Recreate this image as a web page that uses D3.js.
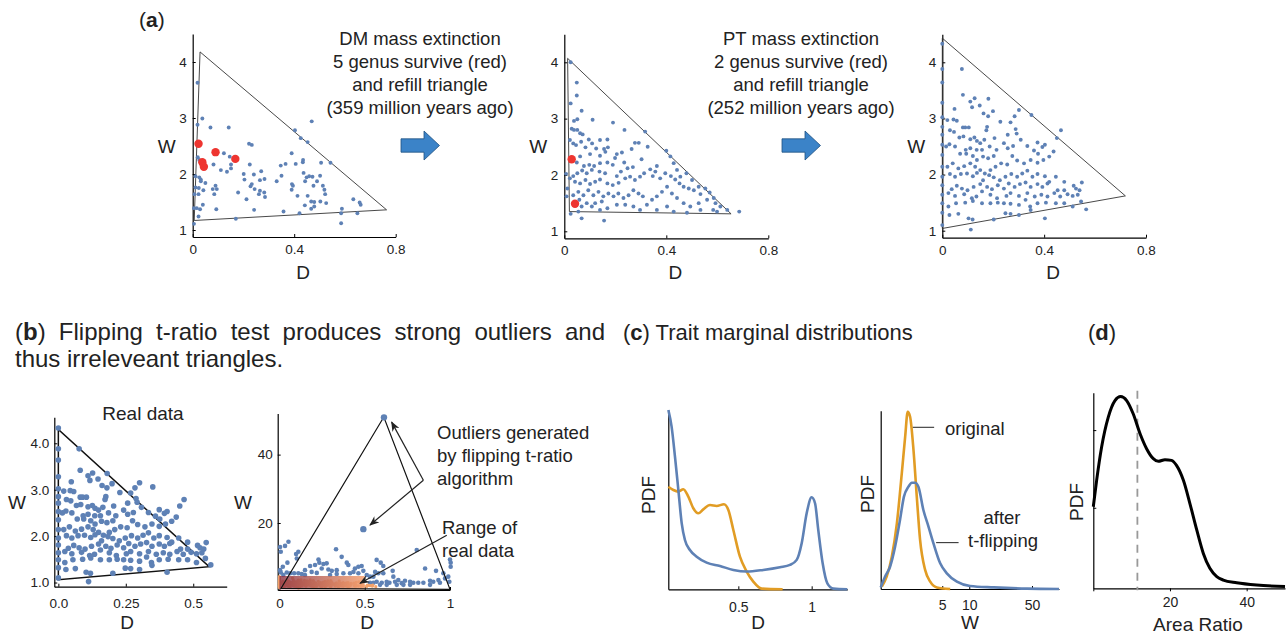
<!DOCTYPE html>
<html>
<head>
<meta charset="utf-8">
<script src="https://cdn.jsdelivr.net/npm/d3@7"></script>
<style>
body { margin: 0; background: #fff; }
text { font-family: "Liberation Sans", Arial, sans-serif; fill: #222; }
</style>
</head>
<body>
<svg id="fig" width="1287" height="633"></svg>
<script>
// ---------- data (D, W) ----------
const a1Blue = [[0.019,3.63],[0.019,2.88],[0.038,2.99],[0.070,2.83],[0.142,2.83],[0.469,2.94],[0.403,2.78],[0.426,2.64],[0.453,2.57],[0.222,2.54],[0.233,2.52],[0.123,2.37],[0.146,2.31],[0.390,2.37],[0.434,2.21],[0.406,2.18],[0.366,2.18],[0.347,2.15],[0.506,2.20],[0.543,2.20],[0.435,2.25],[0.225,2.17],[0.151,2.17],[0.082,2.17],[0.151,2.10],[0.135,2.04],[0.111,2.07],[0.020,2.30],[0.026,2.25],[0.011,1.96],[0.026,1.94],[0.032,1.87],[0.201,2.00],[0.204,1.90],[0.241,1.99],[0.270,2.05],[0.265,1.89],[0.283,1.91],[0.228,1.78],[0.233,1.82],[0.244,1.73],[0.265,1.70],[0.261,1.64],[0.282,1.67],[0.285,1.59],[0.212,1.55],[0.179,1.67],[0.331,1.87],[0.350,1.97],[0.391,1.82],[0.395,1.79],[0.390,1.72],[0.413,1.61],[0.437,2.02],[0.449,1.94],[0.459,1.96],[0.472,1.95],[0.443,1.87],[0.476,1.79],[0.490,1.87],[0.502,1.97],[0.513,1.79],[0.519,1.72],[0.522,1.64],[0.453,1.61],[0.442,1.44],[0.467,1.51],[0.479,1.50],[0.503,1.51],[0.526,1.48],[0.479,1.42],[0.467,1.38],[0.421,1.30],[0.358,1.33],[0.242,1.36],[0.588,1.38],[0.585,1.30],[0.585,1.12],[0.633,1.55],[0.658,1.49],[0.662,1.45],[0.649,1.30],[0.170,1.20],[0.093,1.37],[0.040,1.45],[0.029,1.37],[0.016,1.39],[0.005,1.39],[0.023,1.24],[0.005,1.11],[0.007,1.64],[0.023,1.64],[0.042,1.71],[0.079,1.73],[0.095,1.73],[0.085,1.64],[0.024,1.75],[0.011,1.76],[0.090,1.79],[0.032,1.90],[0.050,1.84]];
const a1Red = [[0.023,2.54],[0.090,2.39],[0.038,2.21],[0.044,2.13],[0.168,2.27]];
const a1Tri = [[0.029,4.18],[0.006,1.17],[0.764,1.36]];

const a2Blue = [[0.025,4.00],[0.049,3.64],[0.049,3.41],[0.025,3.27],[0.068,3.14],[0.111,2.98],[0.051,2.99],[0.038,2.96],[0.191,2.93],[0.029,2.82],[0.038,2.80],[0.051,2.80],[0.062,2.74],[0.072,2.72],[0.236,2.80],[0.317,2.77],[0.169,2.63],[0.140,2.62],[0.096,2.63],[0.022,2.62],[0.035,2.56],[0.046,2.53],[0.066,2.59],[0.083,2.49],[0.109,2.56],[0.125,2.47],[0.156,2.46],[0.171,2.49],[0.161,2.41],[0.277,2.57],[0.292,2.57],[0.327,2.50],[0.264,2.46],[0.226,2.40],[0.206,2.37],[0.303,2.28],[0.400,2.43],[0.416,2.33],[0.199,2.30],[0.140,2.34],[0.101,2.37],[0.062,2.33],[0.049,2.22],[0.077,2.16],[0.098,2.18],[0.117,2.16],[0.140,2.21],[0.169,2.22],[0.190,2.18],[0.235,2.22],[0.248,2.12],[0.269,2.14],[0.222,2.06],[0.206,1.98],[0.160,2.03],[0.138,2.06],[0.108,2.09],[0.088,2.03],[0.070,2.08],[0.051,2.03],[0.035,1.98],[0.022,1.94],[0.042,1.88],[0.062,1.85],[0.083,1.91],[0.101,1.84],[0.121,1.88],[0.140,1.92],[0.169,1.85],[0.190,1.82],[0.213,1.86],[0.239,1.94],[0.258,1.97],[0.277,1.91],[0.297,1.97],[0.313,2.03],[0.337,2.10],[0.347,1.98],[0.363,2.16],[0.357,2.06],[0.376,1.94],[0.396,2.03],[0.418,1.98],[0.435,1.92],[0.452,1.85],[0.468,1.79],[0.488,1.76],[0.508,1.73],[0.534,1.66],[0.570,1.69],[0.593,1.50],[0.612,1.44],[0.639,1.38],[0.686,1.35],[0.560,1.56],[0.527,1.50],[0.494,1.44],[0.468,1.50],[0.442,1.59],[0.422,1.67],[0.403,1.79],[0.383,1.70],[0.363,1.62],[0.344,1.56],[0.324,1.47],[0.308,1.62],[0.291,1.67],[0.271,1.73],[0.252,1.64],[0.232,1.59],[0.212,1.67],[0.193,1.62],[0.173,1.67],[0.153,1.62],[0.134,1.70],[0.114,1.64],[0.094,1.73],[0.075,1.64],[0.055,1.70],[0.035,1.64],[0.059,1.56],[0.088,1.50],[0.121,1.50],[0.147,1.53],[0.169,1.41],[0.140,1.38],[0.108,1.44],[0.068,1.44],[0.206,1.47],[0.239,1.47],[0.271,1.44],[0.297,1.38],[0.363,1.38],[0.403,1.44],[0.429,1.35],[0.481,1.33],[0.534,1.38],[0.584,1.38],[0.055,1.35],[0.025,1.31],[0.068,1.23],[0.156,1.19],[0.007,2.02],[0.009,1.62],[0.012,1.76],[0.429,2.21],[0.442,2.09],[0.479,2.03],[0.455,1.97],[0.501,1.91],[0.527,1.79],[0.553,1.76],[0.586,1.59],[0.599,1.35]];
const a2Red = [[0.029,2.28],[0.042,1.49]];
const a2Tri = [[0.013,4.07],[0.020,1.35],[0.654,1.31]];

// real data: shown in (a) right panel and (b) left panel
const realPts = [[0,4.33],[0,3.88],[0,3.64],[0,3.28],[0,3.02],[0,2.85],[0,2.71],[0,2.53],[0,2.35],[0,2.14],[0,1.96],[0,1.81],[0,1.64],[0,1.49],[0,1.32],[0,1.10],[0.077,3.88],[0.081,3.42],[0.127,3.36],[0.110,3.30],[0.117,3.20],[0.147,3.23],[0.181,3.35],[0.199,3.13],[0.162,3.09],[0.180,3.04],[0.048,3.17],[0.044,2.98],[0.020,2.97],[0.057,2.96],[0.301,3.15],[0.284,3.04],[0.350,3.06],[0.268,2.93],[0.228,2.94],[0.466,2.79],[0.450,2.65],[0.288,2.81],[0.292,2.73],[0.257,2.71],[0.205,2.65],[0.176,2.85],[0.173,2.79],[0.081,2.84],[0.090,2.84],[0.104,2.84],[0.046,2.76],[0.030,2.79],[0.067,2.66],[0.083,2.68],[0.110,2.63],[0.126,2.66],[0.136,2.60],[0.149,2.56],[0.165,2.62],[0.186,2.50],[0.156,2.44],[0.135,2.44],[0.110,2.47],[0.092,2.44],[0.070,2.37],[0.050,2.50],[0.028,2.54],[0.015,2.50],[0.094,2.37],[0.120,2.33],[0.136,2.26],[0.160,2.32],[0.180,2.29],[0.202,2.33],[0.213,2.44],[0.242,2.56],[0.257,2.47],[0.278,2.51],[0.308,2.62],[0.334,2.51],[0.374,2.57],[0.393,2.49],[0.403,2.53],[0.360,2.43],[0.376,2.37],[0.420,2.32],[0.437,2.41],[0.397,2.26],[0.374,2.21],[0.347,2.26],[0.321,2.20],[0.294,2.25],[0.275,2.33],[0.255,2.18],[0.231,2.20],[0.209,2.14],[0.189,2.08],[0.167,2.02],[0.149,2.08],[0.129,2.14],[0.110,2.20],[0.086,2.15],[0.063,2.11],[0.041,2.20],[0.020,2.14],[0.030,2.01],[0.050,1.96],[0.073,2.01],[0.097,2.02],[0.120,1.97],[0.136,2.03],[0.160,1.90],[0.184,1.99],[0.202,1.95],[0.226,1.90],[0.248,1.96],[0.271,2.01],[0.294,1.96],[0.314,2.02],[0.334,2.07],[0.354,1.96],[0.374,2.01],[0.403,1.97],[0.420,1.87],[0.446,1.96],[0.413,1.84],[0.393,1.78],[0.374,1.83],[0.347,1.78],[0.327,1.86],[0.305,1.83],[0.284,1.78],[0.261,1.84],[0.242,1.75],[0.218,1.81],[0.195,1.74],[0.176,1.78],[0.149,1.83],[0.123,1.78],[0.099,1.72],[0.077,1.75],[0.057,1.80],[0.037,1.74],[0.024,1.67],[0.050,1.62],[0.086,1.65],[0.116,1.58],[0.134,1.61],[0.156,1.70],[0.189,1.64],[0.215,1.58],[0.252,1.62],[0.268,1.67],[0.301,1.62],[0.334,1.67],[0.363,1.61],[0.389,1.64],[0.413,1.61],[0.440,1.67],[0.463,1.61],[0.479,1.72],[0.492,1.65],[0.516,1.80],[0.525,1.75],[0.539,1.72],[0.548,1.86],[0.532,1.64],[0.512,1.62],[0.479,1.87],[0.453,1.72],[0.545,1.52],[0.565,1.38],[0.512,1.43],[0.479,1.49],[0.446,1.49],[0.407,1.50],[0.374,1.49],[0.345,1.43],[0.327,1.55],[0.301,1.46],[0.268,1.48],[0.242,1.49],[0.218,1.50],[0.189,1.49],[0.156,1.49],[0.120,1.53],[0.090,1.50],[0.054,1.49],[0.024,1.43],[0.028,1.28],[0.063,1.30],[0.103,1.22],[0.119,1.20],[0.112,1.02],[0.202,1.20],[0.248,1.31],[0.268,1.30],[0.301,1.28],[0.347,1.37],[0.403,1.22]];
const a3Tri = [[0,4.43],[0,1.04],[0.719,1.62]];
const b1Tri = [[0,4.30],[0,1.06],[0.559,1.34]];

// after t-ratio flipping
const b2Blue = [[0.004,13.0],[0.008,11.6],[0.033,13.3],[0.053,14.5],[0.004,6.2],[0.008,5.5],[0.047,8.4],[0.043,5.5],[0.063,5.3],[0.098,10.9],[0.111,11.6],[0.102,9.6],[0.086,5.3],[0.111,5.3],[0.131,5.1],[0.150,4.8],[0.180,7.4],[0.209,7.7],[0.229,9.3],[0.234,8.4],[0.258,8.0],[0.277,8.2],[0.248,6.7],[0.287,6.4],[0.307,6.0],[0.332,12.3],[0.336,5.1],[0.365,10.1],[0.395,8.4],[0.404,7.7],[0.375,5.3],[0.414,5.3],[0.443,6.7],[0.463,7.2],[0.482,7.4],[0.492,6.0],[0.512,4.8],[0.531,4.3],[0.570,9.2],[0.580,5.3],[0.594,8.4],[0.609,7.4],[0.531,2.5],[0.551,2.5],[0.570,2.8],[0.600,2.5],[0.629,2.8],[0.645,2.5],[0.664,6.0],[0.678,2.8],[0.697,3.3],[0.717,2.4],[0.736,3.1],[0.766,2.8],[0.785,2.5],[0.805,12.1],[0.814,2.5],[0.854,6.7],[0.883,3.1],[0.902,2.8],[0.918,6.0],[0.932,3.3],[0.941,2.5],[0.961,5.3],[0.971,3.8],[0.990,4.3],[0.996,2.8],[1.0,9.3],[1.004,8.4],[1.004,7.2],[0.668,4.3],[0.688,1.9],[0.727,1.9],[0.766,1.9],[0.844,2.5],[0.883,1.9],[0.590,1.9],[0.629,1.9],[0.551,4.3],[0.561,5.7],[0.609,5.3],[0.463,5.3],[0.020,7.2],[0.023,4.8],[0.150,6.2],[0.189,5.7],[0.219,5.4],[0.297,4.8],[0.336,6.2],[0.434,5.7]];
const b2Outliers = [[0.492,18.2],[0.613,50.9]];
const b2Tri = [[0.01,0.9],[0.612,51],[1.0,0.6]];
const b2RealRange = {D: [0, 0.5], W: [0.6, 4.5]};

// (c) marginal PDFs
const c1Flipped = [[0.023,1.0],[0.045,0.907],[0.068,0.740],[0.091,0.554],[0.114,0.368],[0.136,0.275],[0.170,0.219],[0.216,0.182],[0.284,0.149],[0.375,0.130],[0.466,0.108],[0.557,0.099],[0.670,0.108],[0.784,0.123],[0.852,0.136],[0.898,0.164],[0.932,0.257],[0.966,0.424],[1.0,0.513],[1.023,0.480],[1.045,0.331],[1.075,0.145],[1.107,0.033],[1.148,0.004],[1.243,0]];
const c1Original = [[0.023,0.572],[0.057,0.554],[0.091,0.545],[0.125,0.558],[0.159,0.517],[0.193,0.452],[0.227,0.424],[0.261,0.446],[0.307,0.470],[0.352,0.465],[0.402,0.474],[0.432,0.442],[0.466,0.331],[0.511,0.182],[0.557,0.099],[0.602,0.043],[0.659,0.004],[0.802,0]];
const c2Original = [[1.06,0.013],[1.2,0.069],[1.37,0.181],[1.56,0.368],[1.77,0.649],[1.93,0.854],[2.06,0.994],[2.19,0.966],[2.39,0.779],[2.6,0.518],[2.83,0.275],[3.22,0.107],[3.67,0.041],[4.35,0.009],[6.13,0]];
const c2Flipped = [[1.03,0.009],[1.15,0.069],[1.31,0.125],[1.49,0.237],[1.69,0.387],[1.87,0.518],[2.10,0.574],[2.29,0.596],[2.49,0.596],[2.71,0.574],[3.08,0.443],[3.51,0.350],[3.99,0.256],[4.74,0.144],[5.62,0.088],[7.28,0.041],[10.2,0.017],[18.7,0.009],[44,0.002],[100,0]];

// (d) area ratio PDF
const dCurve = [[0,0.425],[0.87,0.563],[2.17,0.737],[3.91,0.893],[5.65,0.979],[7.13,1.0],[8.70,0.979],[10.4,0.910],[12.2,0.806],[13.9,0.728],[15.65,0.676],[16.96,0.662],[18.7,0.671],[20.4,0.667],[21.7,0.641],[23.5,0.563],[25.2,0.442],[27.0,0.303],[28.7,0.182],[30.4,0.104],[32.2,0.061],[33.9,0.043],[37.4,0.029],[42.6,0.017],[50,0.009]];
const dThreshold = 11.5;

// ticks and labels
const aXTicks = [0, 0.4, 0.8];
const aYTicks = [1, 2, 3, 4];
const b1XTicks = [0, 0.25, 0.5];
const b1XLabels = ['0.0', '0.25', '0.5'];
const b1YTicks = [1, 2, 3, 4];
const b2XTicks = [0, 0.5, 1];
const b2YTicks = [20, 40];
const c1XTicks = [0.5, 1];
const c2XTicks = [5, 10, 50];
const dXTicks = [0, 20, 40];
const dYTicks = [0.42, 0.825];
const dmText = ['DM mass extinction', '5 genus survive (red)', 'and refill triangle', '(359 million years ago)'];
const ptText = ['PT mass extinction', '2 genus survive (red)', 'and refill triangle', '(252 million years ago)'];
const outlierText = ['Outliers generated', 'by flipping t-ratio', 'algorithm'];
const rangeText = ['Range of', 'real data'];

// ---------- drawing ----------
const BLUE = '#5e81b5', ORANGE = '#e19c24', RED = '#ee3530';
const svg = d3.select('#fig');

function axes(x, y, o) {
    const g = svg.append('g');
    const xa = d3.axisBottom(x).tickValues(o.xt).tickSizeInner(o.xin || -3).tickSizeOuter(0)
        .tickPadding(o.xp).tickFormat(o.xf || (d => d));
    const ya = d3.axisLeft(y).tickValues(o.yt).tickSizeInner(-3).tickSizeOuter(0)
        .tickPadding(o.yp || 5).tickFormat(o.yf || (d => d));
    g.append('g').attr('transform', `translate(0,${y.range()[0]})`).call(xa);
    g.append('g').attr('transform', `translate(${x.range()[0]},0)`).call(ya);
    g.selectAll('.domain').attr('stroke', '#000').attr('stroke-width', 1.2);
    g.selectAll('.tick line').attr('stroke', '#000');
    g.selectAll('.tick text').attr('font-size', o.fs || 13.5).attr('fill', o.tc || '#222')
        .attr('font-family', '"Liberation Sans", Arial, sans-serif');
    return g;
}

function label(x, y, txt, size, rotate) {
    svg.append('text')
        .attr('transform', `translate(${x},${y})` + (rotate ? ' rotate(-90)' : ''))
        .attr('text-anchor', 'middle').attr('dominant-baseline', 'central')
        .attr('font-size', size || 19).text(txt);
}

function triangle(x, y, pts, w, col) {
    svg.append('path')
        .attr('d', d3.line().x(d => x(d[0])).y(d => y(d[1]))(pts) + 'Z')
        .attr('fill', 'none').attr('stroke', col || '#333').attr('stroke-width', w || 0.9);
}

function dots(x, y, pts, r, col) {
    svg.append('g').selectAll('circle').data(pts).enter().append('circle')
        .attr('cx', d => x(d[0])).attr('cy', d => y(d[1]))
        .attr('r', r).attr('fill', col);
}

// panel (a): three triangles
const aPanels = [
    {x0: 192.7, x8: 395.7, y1: 230, y4: 62, blue: a1Blue, red: a1Red, tri: a1Tri},
    {x0: 564.3, x8: 768.3, y1: 231.3, y4: 62.3, blue: a2Blue, red: a2Red, tri: a2Tri},
    {x0: 942.3, x8: 1146, y1: 230.7, y4: 62.3, blue: realPts, red: [], tri: a3Tri}
];
aPanels.forEach(p => {
    const unit = (p.y1 - p.y4) / 3;
    const x = d3.scaleLinear().domain([0, 0.8]).range([p.x0, p.x8]);
    const y = d3.scaleLinear().domain([0.875, 4.5]).range([p.y1 + 0.125 * unit, p.y1 - 3.5 * unit]);
    axes(x, y, {xt: aXTicks, yt: aYTicks, xp: 7.5, yp: 6});
    triangle(x, y, p.tri, 0.9, '#333');
    dots(x, y, p.blue, 1.95, BLUE);
    dots(x, y, p.red, 4.2, RED);
    label(p.x0 - 26, 146, 'W');
    label((p.x0 + p.x8) / 2 + 9, 272, 'D');
});

// (a) title and transition notes
svg.append('text').attr('x', 139).attr('y', 27).attr('font-size', 21)
    .html('(<tspan font-weight="bold">a</tspan>)');

function note(cx, lines) {
    svg.append('g').selectAll('text').data(lines).enter().append('text')
        .attr('x', cx).attr('y', (d, i) => 45 + i * 23)
        .attr('text-anchor', 'middle').attr('font-size', 18.5).text(d => d);
}
note(420, dmText);
note(801, ptText);

function blockArrow(cx, cy) {
    const p = [[-19, -6.7], [4, -6.7], [4, -14.5], [19.5, 0], [4, 14.5], [4, 6.7], [-19, 6.7]];
    svg.append('path')
        .attr('d', d3.line().x(d => cx + d[0]).y(d => cy + d[1])(p) + 'Z')
        .attr('fill', '#3b83c8').attr('stroke', '#1f5080').attr('stroke-width', 0.8);
}
blockArrow(420, 145.5);
blockArrow(801, 145.5);

// (b) heading, first line justified through word spacing
const bLine1 = svg.append('text').attr('x', 15).attr('y', 340).attr('font-size', 24)
    .html('(<tspan font-weight="bold">b</tspan>) Flipping t-ratio test produces strong outliers and');
const bGap = (590 - bLine1.node().getComputedTextLength()) / 7;
bLine1.attr('word-spacing', Math.max(0, bGap));
svg.append('text').attr('x', 15).attr('y', 367).attr('font-size', 24)
    .text('thus irreleveant triangles.');

// (b) left: real data
{
    const x = d3.scaleLinear().domain([-0.015, 0.624]).range([54.3, 226.7]);
    const y = d3.scaleLinear().domain([0.91, 4.56]).range([586.7, 417.3]);
    axes(x, y, {xt: b1XTicks, yt: b1YTicks, xp: 11.5, yp: 5, tc: '#444',
        xf: (d, i) => b1XLabels[i], yf: d3.format('.1f')});
    triangle(x, y, b1Tri, 1.5, '#111');
    dots(x, y, realPts, 2.8, BLUE);
    label(143, 413, 'Real data');
    label(17, 502, 'W');
    label(127, 622, 'D');
}

// (b) right: after flipping
{
    const x = d3.scaleLinear().domain([-0.01, 1.0]).range([277.7, 450]);
    const y = d3.scaleLinear().domain([0.4, 52]).range([590, 413.6]);
    axes(x, y, {xt: b2XTicks, yt: b2YTicks, xp: 8.5, yp: 5});
    dots(x, y, b2Blue, 2.3, BLUE);

    // real data range highlighted
    const defs = svg.append('defs');
    const grad = defs.append('linearGradient').attr('id', 'rangeGrad');
    grad.append('stop').attr('offset', '0%').attr('stop-color', '#8a2f42').attr('stop-opacity', 0.8);
    grad.append('stop').attr('offset', '100%').attr('stop-color', '#f4a070').attr('stop-opacity', 0.85);
    dots(x, y, realPts, 1.6, '#f3a26a');
    svg.append('rect')
        .attr('x', x(b2RealRange.D[0])).attr('y', y(b2RealRange.W[1]))
        .attr('width', x(b2RealRange.D[1]) - x(b2RealRange.D[0]))
        .attr('height', y(b2RealRange.W[0]) - y(b2RealRange.W[1]))
        .attr('fill', 'url(#rangeGrad)');

    triangle(x, y, b2Tri, 1.2, '#111');
    dots(x, y, b2Outliers, 3.2, BLUE);

    defs.append('marker').attr('id', 'head').attr('viewBox', '0 0 10 8')
        .attr('refX', 9).attr('refY', 4).attr('markerWidth', 10).attr('markerHeight', 8)
        .attr('markerUnits', 'userSpaceOnUse').attr('orient', 'auto')
        .append('path').attr('d', 'M0,0 L10,4 L0,8 L3,4 Z').attr('fill', '#222');
    const arrows = [
        [[0.844, 32.5], [0.658, 49.5]],
        [[0.844, 32.5], [0.531, 19.4]],
        [[0.981, 16.4], [0.473, 2.4]]
    ];
    svg.append('g').selectAll('line').data(arrows).enter().append('line')
        .attr('x1', d => x(d[0][0])).attr('y1', d => y(d[0][1]))
        .attr('x2', d => x(d[1][0])).attr('y2', d => y(d[1][1]))
        .attr('stroke', '#222').attr('stroke-width', 1.2).attr('marker-end', 'url(#head)');

    svg.append('g').selectAll('text').data(outlierText).enter().append('text')
        .attr('x', 437).attr('y', (d, i) => 439 + i * 23).attr('font-size', 18.5).text(d => d);
    svg.append('g').selectAll('text').data(rangeText).enter().append('text')
        .attr('x', 442).attr('y', (d, i) => 534 + i * 23).attr('font-size', 18.5).text(d => d);
    label(243, 502, 'W');
    label(367, 622, 'D');
}

// (c) heading
svg.append('text').attr('x', 623).attr('y', 340).attr('font-size', 22)
    .html('(<tspan font-weight="bold">c</tspan>) Trait marginal distributions');

// (c) left: D
{
    const x = d3.scaleLinear().domain([0.0225, 1.243]).range([668.3, 847.3]);
    const y = d3.scaleLinear().domain([0, 1]).range([589.3, 410]);
    axes(x, y, {xt: c1XTicks, yt: [], xp: 12.5, fs: 14});
    const line = d3.line().x(d => x(d[0])).y(d => y(d[1])).curve(d3.curveMonotoneX);
    svg.append('path').attr('d', line(c1Original)).attr('fill', 'none')
        .attr('stroke', ORANGE).attr('stroke-width', 2.6);
    svg.append('path').attr('d', line(c1Flipped)).attr('fill', 'none')
        .attr('stroke', BLUE).attr('stroke-width', 2.6);
    label(648, 495, 'PDF', 19, true);
    label(758, 622, 'D');
}

// (c) right: W (log scale)
{
    const x = d3.scaleLog().domain([1.03, 100]).range([880.7, 1059]);
    const y = d3.scaleLinear().domain([0, 1]).range([589, 410.7]);
    axes(x, y, {xt: c2XTicks, yt: [], xp: 11.5, fs: 14});
    const line = d3.line().x(d => x(d[0])).y(d => y(d[1])).curve(d3.curveMonotoneX);
    svg.append('path').attr('d', line(c2Original)).attr('fill', 'none')
        .attr('stroke', ORANGE).attr('stroke-width', 2.6);
    svg.append('path').attr('d', line(c2Flipped)).attr('fill', 'none')
        .attr('stroke', BLUE).attr('stroke-width', 2.6);
    const leaders = [[[2.35, 0.907], [4.06, 0.907]], [[4.27, 0.26], [7.6, 0.26]]];
    svg.append('g').selectAll('line').data(leaders).enter().append('line')
        .attr('x1', d => x(d[0][0])).attr('y1', d => y(d[0][1]))
        .attr('x2', d => x(d[1][0])).attr('y2', d => y(d[1][1]))
        .attr('stroke', '#222').attr('stroke-width', 1);
    svg.append('text').attr('x', 945).attr('y', 435).attr('font-size', 18.5).text('original');
    label(1002, 517, 'after', 18.5);
    label(1003, 540, 't-flipping', 18.5);
    label(867, 494, 'PDF', 19, true);
    label(970, 622, 'W');
}

// (d) heading and area ratio PDF
svg.append('text').attr('x', 1088).attr('y', 340).attr('font-size', 22)
    .html('(<tspan font-weight="bold">d</tspan>)');
{
    const x = d3.scaleLinear().domain([0, 50]).range([1093.3, 1285]);
    const y = d3.scaleLinear().domain([0, 1.02]).range([588.3, 392.7]);
    axes(x, y, {xt: dXTicks, yt: dYTicks, xin: 3, xp: 6, fs: 14,
        xf: d => d === 0 ? '' : d, yf: () => ''});
    svg.append('line')
        .attr('x1', x(dThreshold)).attr('x2', x(dThreshold))
        .attr('y1', y(1.03)).attr('y2', y(-0.01))
        .attr('stroke', '#999').attr('stroke-width', 1.8).attr('stroke-dasharray', '8,6');
    const line = d3.line().x(d => x(d[0])).y(d => y(d[1])).curve(d3.curveMonotoneX);
    svg.append('path').attr('d', line(dCurve)).attr('fill', 'none')
        .attr('stroke', '#000').attr('stroke-width', 3);
    label(1076, 502, 'PDF', 19, true);
    label(1198, 624, 'Area Ratio');
}
</script>
</body>
</html>
